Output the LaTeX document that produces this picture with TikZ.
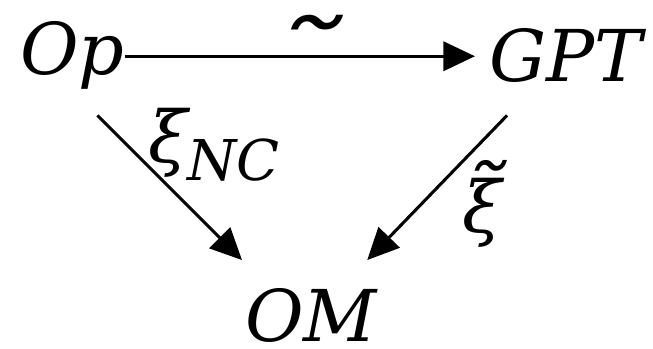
\documentclass[tikz,border=0pt]{standalone}
\usepackage{fontspec}
\setmainfont{DejaVu Serif}
\usetikzlibrary{arrows.meta}

\begin{document}
\begin{tikzpicture}[x=0.03cm, y=-0.03cm,
  font=\fontsize{61}{70}\selectfont\itshape,
  obj/.style={inner sep=0pt, anchor=base west, text height=45pt, text depth=13pt},
  mapto/.style={line width=2.6pt, -{Triangle[length=27pt, width=25pt]}},
  maplabel/.style={inner sep=0pt, anchor=base west}]
  \useasboundingbox (0,0) rectangle (653,349);
  % objects
  \node[obj] (op) at (20,75) {Op};
  \node[obj] (gpt) at (489,82) {GPT};
  \node[obj, text depth=0pt] (om) at (245,341) {OM};
  % arrows
  \draw[mapto, shorten >=12pt] (op.east) -- (op.east -| gpt.west);
  \draw[mapto] ([shift={(25,25)}]op.south) -- ([shift={(-3,-28)}]om.north west);
  \draw[mapto] ([shift={(18,18)}]gpt.south west) -- ([shift={(-10,-28)}]om.north east);
  % labels
  \node[anchor=base] (tilde) at (302,99) {\scalebox{2.1}[1.5]{˜}};
  \node[maplabel] (xinc) at (148,163) {ξ\raisebox{-0.25em}{\fontsize{48}{50}\selectfont NC}};
  \node[maplabel] (xit) at (462,233) {\ooalign{ξ\cr\hidewidth\raisebox{0.16em}{\scalebox{1.3}[1.1]{˜}}\hidewidth\cr}};
\end{tikzpicture}
\end{document}
